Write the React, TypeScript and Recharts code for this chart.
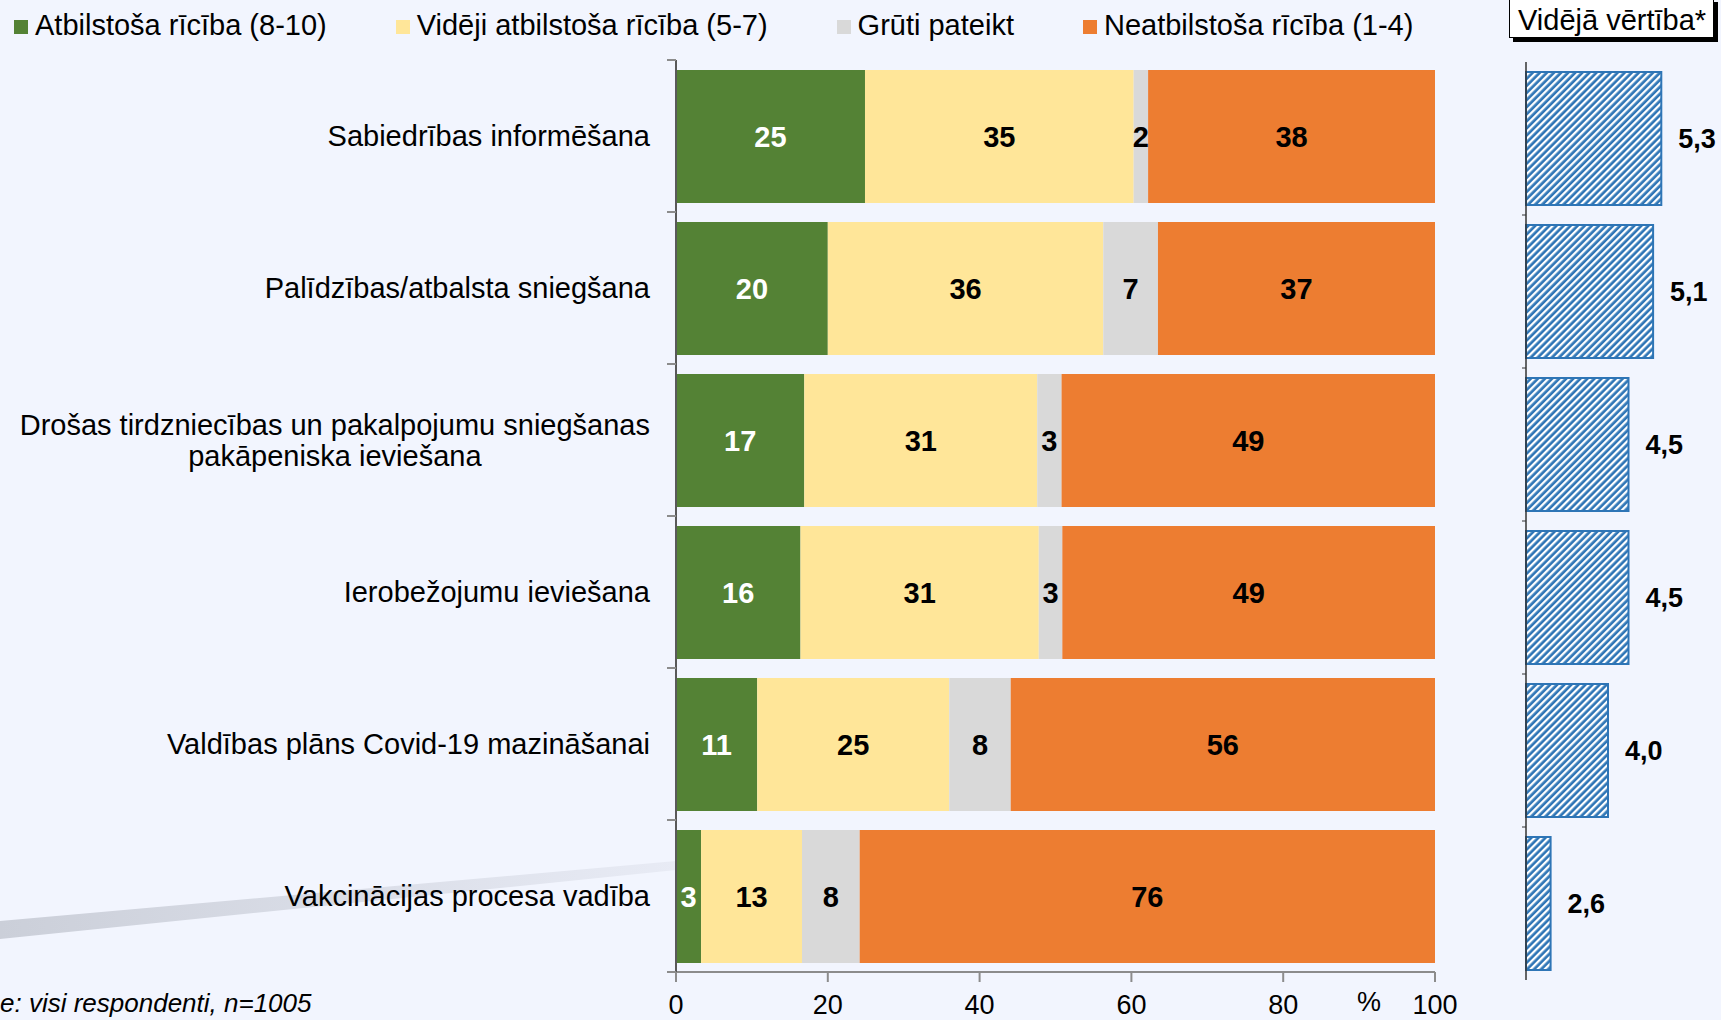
import { Bar, BarChart, LabelList, XAxis, YAxis } from 'recharts'

const categories = [
  'Sabiedrības informēšana',
  'Palīdzības/atbalsta sniegšana',
  'Drošas tirdzniecības un pakalpojumu sniegšanas\npakāpeniska ieviešana',
  'Ierobežojumu ieviešana',
  'Valdības plāns Covid-19 mazināšanai',
  'Vakcinācijas procesa vadība',
]
const appropriate = [24.9, 20.0, 16.9, 16.4, 10.7, 3.3]
const partly = [35.4, 36.3, 30.7, 31.4, 25.3, 13.3]
const hardToSay = [1.9, 7.2, 3.2, 3.1, 8.1, 7.6]
const inappropriate = [37.8, 36.5, 49.2, 49.1, 55.9, 75.8]
const averages = [5.3, 5.1, 4.5, 4.5, 4.0, 2.6]
const percentTicks = [0, 20, 40, 60, 80, 100]

const series = [
  { key: 'appropriate', name: 'Atbilstoša rīcība (8-10)', color: '#548235', text: '#ffffff' },
  { key: 'partly', name: 'Vidēji atbilstoša rīcība (5-7)', color: '#FFE699', text: '#000000' },
  { key: 'hard', name: 'Grūti pateikt', color: '#D9D9D9', text: '#000000' },
  { key: 'inappropriate', name: 'Neatbilstoša rīcība (1-4)', color: '#ED7D31', text: '#000000' },
]

const rows = categories.map((name, i) => ({
  name,
  appropriate: appropriate[i],
  partly: partly[i],
  hard: hardToSay[i],
  inappropriate: inappropriate[i],
  avg: averages[i],
}))

const FONT = "'Liberation Sans', Arial, sans-serif"
const BG = '#F2F5FE'
const PLOT_TOP = 60
const PLOT_BOTTOM = 972
const AXIS_X = 676
const BAND = (PLOT_BOTTOM - PLOT_TOP) / categories.length

let ctx: CanvasRenderingContext2D | null = null
const textWidth = (t: string, font: string) => {
  if (!ctx) ctx = document.createElement('canvas').getContext('2d')
  if (!ctx) return t.length * 14
  ctx.font = font
  return ctx.measureText(t).width
}

const CategoryTick = (props: any) => {
  const { y, payload } = props
  const idx = categories.indexOf(payload.value)
  const lines = String(payload.value).split('\n')
  const right = AXIS_X - 26
  const maxW = Math.max(...lines.map((l) => textWidth(l, `29px ${FONT}`)))
  const lineH = 31
  const first = y - ((lines.length - 1) * lineH) / 2
  return (
    <g>
      <line x1={AXIS_X - 9} x2={AXIS_X} y1={y - BAND / 2} y2={y - BAND / 2} stroke="#8c8c8c" strokeWidth={2} />
      {idx === categories.length - 1 && (
        <line x1={AXIS_X - 9} x2={AXIS_X} y1={y + BAND / 2} y2={y + BAND / 2} stroke="#8c8c8c" strokeWidth={2} />
      )}
      {lines.map((l, i) => (
        <text
          key={i}
          x={lines.length > 1 ? right - maxW / 2 : right}
          y={first + i * lineH}
          dy="0.35em"
          textAnchor={lines.length > 1 ? 'middle' : 'end'}
          fontSize={29}
          fontFamily={FONT}
          fill="#000"
        >
          {l}
        </text>
      ))}
    </g>
  )
}

const AvgTick = (props: any) => {
  const { x, y, payload } = props
  const idx = categories.indexOf(payload.value)
  const band = 153
  return (
    <g>
      {idx > 0 && <line x1={x + 4} x2={x + 8} y1={y - band / 2} y2={y - band / 2} stroke="#333" strokeWidth={1} />}
    </g>
  )
}

const Legend = () => (
  <div
    style={{
      position: 'absolute',
      left: 14,
      top: 3,
      display: 'flex',
      gap: 69,
      fontFamily: FONT,
      fontSize: 29,
      lineHeight: '44px',
      color: '#000',
      whiteSpace: 'nowrap',
    }}
  >
    {series.map((s) => (
      <div key={s.key} style={{ display: 'flex', alignItems: 'center' }}>
        <span style={{ display: 'inline-block', width: 14, height: 14, background: s.color, marginRight: 7, marginTop: 4 }} />
        <span>{s.name}</span>
      </div>
    ))}
  </div>
)

export default function App() {
  return (
    <div style={{ position: 'relative', width: 1721, height: 1020, background: BG, overflow: 'hidden' }}>
      <style>{'body{margin:0}'}</style>
      <svg width={1721} height={1020} style={{ position: 'absolute', left: 0, top: 0 }}>
        <defs>
          <linearGradient id="streak" x1="0" x2="1" y1="0" y2="0">
            <stop offset="0%" stopColor="#CBCFD9" />
            <stop offset="100%" stopColor="#E8EBF5" />
          </linearGradient>
          <pattern id="hatch" patternUnits="userSpaceOnUse" width={5} height={5} patternTransform="rotate(45)">
            <rect width={5} height={5} fill="#2E75B6" />
            <rect x={0} y={0} width={2.3} height={5} fill="#ffffff" />
          </pattern>
        </defs>
        <polygon points="0,921 0,939 676,870 676,861" fill="url(#streak)" />
      </svg>

      <Legend />

      <div
        style={{
          position: 'absolute',
          left: 1509,
          top: -2,
          width: 205,
          height: 40,
          background: '#fff',
          border: '1px solid #000',
          boxShadow: '4px 4px 0 #000',
          fontFamily: FONT,
          fontSize: 29,
          lineHeight: '42px',
          paddingLeft: 8,
          boxSizing: 'border-box',
          whiteSpace: 'nowrap',
        }}
      >
        Vidējā vērtība*
      </div>

      <div style={{ position: 'absolute', left: 0, top: 0 }}>
        <BarChart
          width={1470}
          height={1020}
          layout="vertical"
          data={rows}
          margin={{ top: PLOT_TOP, right: 35, bottom: 0, left: 0 }}
          style={{ fontFamily: FONT }}
        >
          <XAxis
            type="number"
            domain={[0, 100]}
            ticks={percentTicks}
            height={1020 - PLOT_BOTTOM}
            tickSize={10}
            tickMargin={13}
            axisLine={{ stroke: '#8c8c8c', strokeWidth: 2 }}
            tickLine={{ stroke: '#8c8c8c', strokeWidth: 2 }}
            tick={{ fill: '#000', fontSize: 27, fontFamily: FONT }}
            interval={0}
          />
          <YAxis
            type="category"
            dataKey="name"
            width={AXIS_X}
            tickLine={false}
            axisLine={{ stroke: '#595959', strokeWidth: 2 }}
            tick={<CategoryTick />}
            interval={0}
          />
          {series.map((s) => (
            <Bar key={s.key} dataKey={s.key} stackId="a" fill={s.color} barSize={133} isAnimationActive={false}>
              <LabelList
                dataKey={s.key}
                position="center"
                fill={s.text}
                fontSize={29}
                fontWeight="bold"
                fontFamily={FONT}
                formatter={(v: any) => Math.round(Number(v))}
              />
            </Bar>
          ))}
        </BarChart>
      </div>

      <div
        style={{
          position: 'absolute',
          left: 1357,
          top: 987,
          fontFamily: FONT,
          fontSize: 27,
          lineHeight: '30px',
        }}
      >
        %
      </div>

      <div style={{ position: 'absolute', left: 1480, top: 0 }}>
        <BarChart
          width={241}
          height={1020}
          layout="vertical"
          data={rows}
          margin={{ top: 62, right: 31, bottom: 40, left: 0 }}
          style={{ fontFamily: FONT }}
        >
          <XAxis type="number" domain={[2, 6]} hide />
          <YAxis
            type="category"
            dataKey="name"
            width={46}
            tickLine={false}
            axisLine={{ stroke: '#333', strokeWidth: 1.5 }}
            tick={<AvgTick />}
            interval={0}
          />
          <Bar dataKey="avg" fill="url(#hatch)" stroke="#2E75B6" strokeWidth={2} barSize={133} isAnimationActive={false}>
            <LabelList
              dataKey="avg"
              position="right"
              offset={17}
              fill="#000"
              fontSize={27}
              fontWeight="bold"
              fontFamily={FONT}
              formatter={(v: any) => Number(v).toFixed(1).replace('.', ',')}
            />
          </Bar>
        </BarChart>
      </div>

      <div
        style={{
          position: 'absolute',
          left: 0,
          top: 988,
          fontFamily: FONT,
          fontSize: 26,
          fontStyle: 'italic',
          lineHeight: '30px',
          whiteSpace: 'nowrap',
        }}
      >
        e: visi respondenti, n=1005
      </div>
    </div>
  )
}
